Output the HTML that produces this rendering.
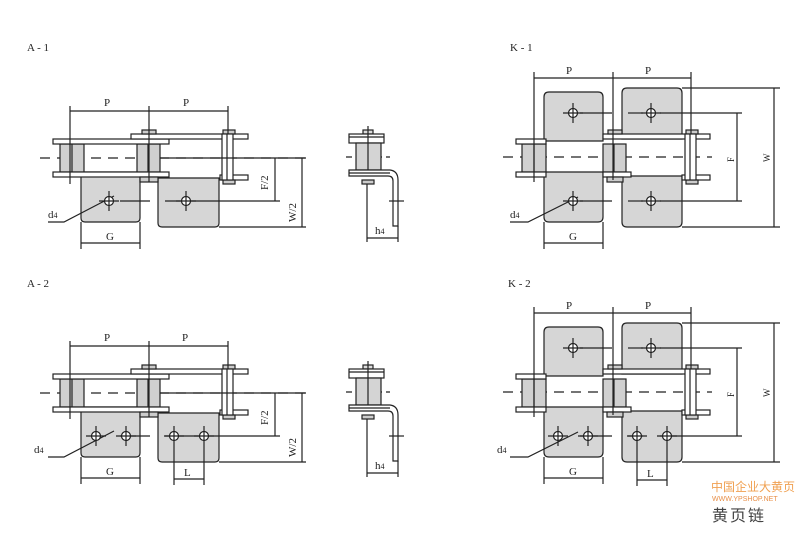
<!DOCTYPE html>
<html><head><meta charset="utf-8"><style>
html,body{margin:0;padding:0;background:#fff;width:800px;height:533px;overflow:hidden}
svg{display:block}
text{font-family:"Liberation Serif",serif;fill:#222}
</style></head><body>
<svg width="800" height="533" viewBox="0 0 800 533" xmlns="http://www.w3.org/2000/svg">
<defs>
<g id="chainA" stroke="#222" stroke-width="1.2" fill="none">
  <line x1="40" y1="158" x2="305" y2="158" stroke-dasharray="10,7"/>
  <path d="M81,172 V218 Q81,222 85,222 H136 Q140,222 140,218 V172 Z" fill="#d6d6d6"/>
  <path d="M158,178 V223 Q158,227 162,227 H215 Q219,227 219,223 V178 Z" fill="#d6d6d6"/>
  <rect x="60" y="144" width="24" height="28" fill="#d0d0d0"/>
  <rect x="137" y="144" width="23" height="28" fill="#d0d0d0"/>
  <line x1="72" y1="144" x2="72" y2="172"/><line x1="148" y1="144" x2="148" y2="172"/>
  <rect x="53" y="139" width="116" height="5" fill="#fff"/>
  <rect x="53" y="172" width="116" height="5" fill="#fff"/>
  <rect x="131" y="134" width="117" height="5" fill="#fff"/>
  <rect x="220" y="175" width="28" height="5" fill="#fff"/>
  <rect x="140" y="177" width="18" height="5" fill="#ccc"/>
  <rect x="223" y="180" width="12" height="4" fill="#ccc"/>
  <rect x="142" y="130" width="14" height="4" fill="#ccc"/>
  <rect x="223" y="130" width="12" height="4" fill="#ccc"/>
  <rect x="222" y="134" width="11" height="46" fill="#fff"/>
  <line x1="227" y1="134" x2="227" y2="180"/>
  <line x1="70" y1="106" x2="70" y2="184"/>
  <line x1="149" y1="106" x2="149" y2="182"/>
  <line x1="228" y1="106" x2="228" y2="134"/>
  <line x1="70" y1="111" x2="228" y2="111"/>
  <line x1="81" y1="222" x2="81" y2="249"/>
  <line x1="140" y1="222" x2="140" y2="249"/>
  <line x1="81" y1="243" x2="140" y2="243"/>
  <line x1="160" y1="158" x2="306" y2="158"/>
  <line x1="219" y1="227" x2="306" y2="227"/>
  <line x1="275" y1="158" x2="275" y2="201"/>
  <line x1="302" y1="158" x2="302" y2="227"/>
  <line x1="120" y1="201" x2="150" y2="201"/>
  <line x1="165" y1="201" x2="280" y2="201"/>
  <polyline points="114,196 64,222 48,222"/>
</g>
<g id="sideA" stroke="#222" stroke-width="1.2" fill="none">
  <line x1="346" y1="157" x2="390" y2="157" stroke-dasharray="6,4"/>
  <rect x="363" y="130" width="10" height="4" fill="#ddd"/>
  <rect x="349" y="134" width="35" height="9" fill="#fff"/>
  <line x1="349" y1="137" x2="384" y2="137"/>
  <rect x="356" y="143" width="25" height="27" fill="#d4d4d4"/>
  <line x1="368" y1="126" x2="368" y2="170"/>
  <path d="M349,170 H390 Q398,171 398,180 V226 H393 V181 Q393,176 388,176 H349 Z" fill="#fff"/>
  <line x1="349" y1="173" x2="390" y2="173"/>
  <rect x="362" y="180" width="12" height="4" fill="#ccc"/>
  <line x1="367" y1="184" x2="367" y2="242"/>
  <line x1="398" y1="226" x2="398" y2="242"/>
  <line x1="367" y1="238" x2="398" y2="238"/>
  <line x1="389" y1="201" x2="404" y2="201"/>
</g>
<g id="chainK" stroke="#222" stroke-width="1.2" fill="none">
  <path d="M544,141 V97 Q544,92 549,92 H598 Q603,92 603,97 V141 Z" fill="#d6d6d6"/>
  <path d="M622,139 V93 Q622,88 627,88 H677 Q682,88 682,93 V139 Z" fill="#d6d6d6"/>
  <path d="M544,172 V217 Q544,222 549,222 H598 Q603,222 603,217 V172 Z" fill="#d6d6d6"/>
  <path d="M622,176 V222 Q622,227 627,227 H677 Q682,227 682,222 V176 Z" fill="#d6d6d6"/>
  <line x1="503" y1="157" x2="712" y2="157" stroke-dasharray="10,7"/>
  <rect x="522" y="144" width="24" height="28" fill="#d0d0d0"/>
  <rect x="603" y="144" width="23" height="28" fill="#d0d0d0"/>
  <line x1="534" y1="144" x2="534" y2="172"/><line x1="614" y1="144" x2="614" y2="172"/>
  <rect x="516" y="139" width="30" height="5" fill="#fff"/>
  <rect x="516" y="172" width="30" height="5" fill="#fff"/>
  <rect x="603" y="134" width="107" height="5" fill="#fff"/>
  <rect x="603" y="172" width="28" height="5" fill="#fff"/>
  <rect x="682" y="175" width="28" height="5" fill="#fff"/>
  <rect x="607" y="177" width="16" height="5" fill="#ccc"/>
  <rect x="686" y="180" width="12" height="4" fill="#ccc"/>
  <rect x="608" y="130" width="14" height="4" fill="#ccc"/>
  <rect x="686" y="130" width="12" height="4" fill="#ccc"/>
  <rect x="685" y="134" width="11" height="46" fill="#fff"/>
  <line x1="690" y1="134" x2="690" y2="180"/>
  <line x1="534" y1="72" x2="534" y2="182"/>
  <line x1="613" y1="72" x2="613" y2="180"/>
  <line x1="691" y1="72" x2="691" y2="134"/>
  <line x1="534" y1="78" x2="691" y2="78"/>
  <line x1="544" y1="222" x2="544" y2="249"/>
  <line x1="603" y1="222" x2="603" y2="249"/>
  <line x1="544" y1="243" x2="603" y2="243"/>
  <line x1="682" y1="88" x2="780" y2="88"/>
  <line x1="682" y1="227" x2="780" y2="227"/>
  <line x1="774" y1="88" x2="774" y2="227"/>
  <line x1="737" y1="113" x2="737" y2="201"/>
  <line x1="660" y1="113" x2="742" y2="113"/>
  <line x1="660" y1="201" x2="742" y2="201"/>
  <line x1="580" y1="113" x2="612" y2="113"/>
  <line x1="628" y1="113" x2="643" y2="113"/>
  <line x1="580" y1="201" x2="612" y2="201"/>
  <line x1="628" y1="201" x2="643" y2="201"/>
  <polyline points="578,197 528,222 510,222"/>
</g>
<g id="hole" stroke="#222" stroke-width="1.2" fill="#fff">
  <circle cx="0" cy="0" r="4.5"/>
  <line x1="0" y1="-10" x2="0" y2="10"/>
  <line x1="-10" y1="0" x2="10" y2="0"/>
</g>
</defs>

<use href="#chainA"/>
<use href="#chainA" transform="translate(0,235)"/>
<use href="#sideA"/>
<use href="#sideA" transform="translate(0,235)"/>
<use href="#chainK"/>
<use href="#chainK" transform="translate(0,235)"/>

<use href="#hole" x="109" y="201"/>
<use href="#hole" x="186" y="201"/>
<use href="#hole" x="96" y="436"/>
<use href="#hole" x="126" y="436"/>
<use href="#hole" x="174" y="436"/>
<use href="#hole" x="204" y="436"/>
<g stroke="#222" stroke-width="1.2" fill="none">
  <line x1="174" y1="446" x2="174" y2="485"/><line x1="204" y1="446" x2="204" y2="485"/>
  <line x1="174" y1="479" x2="204" y2="479"/>
  <line x1="637" y1="446" x2="637" y2="486"/><line x1="667" y1="446" x2="667" y2="486"/>
  <line x1="637" y1="480" x2="667" y2="480"/>
</g>
<use href="#hole" x="573" y="113"/>
<use href="#hole" x="651" y="113"/>
<use href="#hole" x="573" y="201"/>
<use href="#hole" x="651" y="201"/>
<use href="#hole" x="573" y="348"/>
<use href="#hole" x="651" y="348"/>
<use href="#hole" x="558" y="436"/>
<use href="#hole" x="588" y="436"/>
<use href="#hole" x="637" y="436"/>
<use href="#hole" x="667" y="436"/>

<g font-size="11">
<text x="27" y="51">A - 1</text>
<text x="27" y="287">A - 2</text>
<text x="510" y="51">K - 1</text>
<text x="508" y="287">K - 2</text>
<text x="104" y="106">P</text><text x="183" y="106">P</text>
<text x="104" y="341">P</text><text x="182" y="341">P</text>
<text x="566" y="74">P</text><text x="645" y="74">P</text>
<text x="566" y="309">P</text><text x="645" y="309">P</text>
<text x="106" y="240">G</text><text x="106" y="475">G</text>
<text x="569" y="240">G</text><text x="569" y="475">G</text>
<text x="184" y="476">L</text><text x="647" y="477">L</text>
<text x="48" y="218">d<tspan font-size="8">4</tspan></text>
<text x="34" y="453">d<tspan font-size="8">4</tspan></text>
<text x="510" y="218">d<tspan font-size="8">4</tspan></text>
<text x="497" y="453">d<tspan font-size="8">4</tspan></text>
<text x="375" y="234">h<tspan font-size="8">4</tspan></text>
<text x="375" y="469">h<tspan font-size="8">4</tspan></text>
<text transform="translate(268,190) rotate(-90)">F/2</text>
<text transform="translate(296,222) rotate(-90)">W/2</text>
<text transform="translate(268,425) rotate(-90)">F/2</text>
<text transform="translate(296,457) rotate(-90)">W/2</text>
<text font-size="9" transform="translate(734,162) rotate(-90)">F</text>
<text font-size="9" transform="translate(770,162) rotate(-90)">W</text>
<text font-size="9" transform="translate(734,397) rotate(-90)">F</text>
<text font-size="9" transform="translate(770,397) rotate(-90)">W</text>
</g>
<text x="711" y="491" font-size="12" style="font-family:'Noto Sans CJK SC',sans-serif;fill:#f0a050">中国企业大黄页</text>
<text x="712" y="501" font-size="7" style="font-family:'Liberation Sans',sans-serif;fill:#e8904a">WWW.YPSHOP.NET</text>
<text x="712" y="521" font-size="16" letter-spacing="2" style="font-family:'Noto Sans CJK SC',sans-serif;fill:#444">黄页链</text>
</svg>
</body></html>
